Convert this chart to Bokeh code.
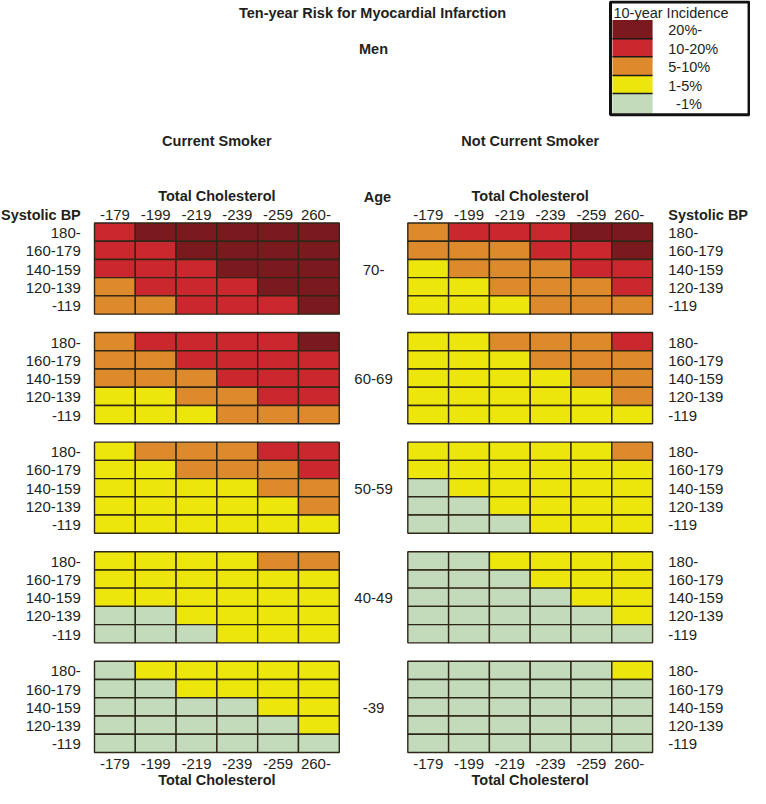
from bokeh.plotting import figure
from bokeh.models import Range1d, ColumnDataSource
from bokeh.core.properties import value
from bokeh.embed import file_html
from bokeh.resources import INLINE

# ---------------- data ----------------
chol_labels = ["-179", "-199", "-219", "-239", "-259", "260-"]
bp_labels = ["180-", "160-179", "140-159", "120-139", "-119"]
age_labels = ["70-", "60-69", "50-59", "40-49", "-39"]
# risk levels: 0 = -1%, 1 = 1-5%, 2 = 5-10%, 3 = 10-20%, 4 = 20%-
legend_labels = ["20%-", "10-20%", "5-10%", "1-5%", "-1%"]
legend_levels = [4, 3, 2, 1, 0]
level_colors = ["#c3dbbb", "#ece60c", "#dc8a2c", "#cb272e", "#7a1a1f"]

smoker_70 = [[3, 4, 4, 4, 4, 4],
             [3, 3, 4, 4, 4, 4],
             [3, 3, 3, 4, 4, 4],
             [2, 3, 3, 3, 4, 4],
             [2, 2, 3, 3, 3, 4]]
smoker_60 = [[2, 3, 3, 3, 3, 4],
             [2, 2, 3, 3, 3, 3],
             [2, 2, 2, 3, 3, 3],
             [1, 1, 2, 2, 3, 3],
             [1, 1, 1, 2, 2, 2]]
smoker_50 = [[1, 2, 2, 2, 3, 3],
             [1, 1, 2, 2, 2, 3],
             [1, 1, 1, 1, 2, 2],
             [1, 1, 1, 1, 1, 2],
             [1, 1, 1, 1, 1, 1]]
smoker_40 = [[1, 1, 1, 1, 2, 2],
             [1, 1, 1, 1, 1, 1],
             [1, 1, 1, 1, 1, 1],
             [0, 0, 1, 1, 1, 1],
             [0, 0, 0, 1, 1, 1]]
smoker_39 = [[0, 1, 1, 1, 1, 1],
             [0, 0, 1, 1, 1, 1],
             [0, 0, 0, 0, 1, 1],
             [0, 0, 0, 0, 0, 1],
             [0, 0, 0, 0, 0, 0]]

nonsmoker_70 = [[2, 3, 3, 3, 4, 4],
                [2, 2, 2, 3, 3, 4],
                [1, 2, 2, 2, 3, 3],
                [1, 1, 2, 2, 2, 3],
                [1, 1, 1, 2, 2, 2]]
nonsmoker_60 = [[1, 1, 2, 2, 2, 3],
                [1, 1, 1, 2, 2, 2],
                [1, 1, 1, 1, 2, 2],
                [1, 1, 1, 1, 1, 2],
                [1, 1, 1, 1, 1, 1]]
nonsmoker_50 = [[1, 1, 1, 1, 1, 2],
                [1, 1, 1, 1, 1, 1],
                [0, 1, 1, 1, 1, 1],
                [0, 0, 1, 1, 1, 1],
                [0, 0, 0, 1, 1, 1]]
nonsmoker_40 = [[0, 0, 1, 1, 1, 1],
                [0, 0, 0, 1, 1, 1],
                [0, 0, 0, 0, 1, 1],
                [0, 0, 0, 0, 0, 1],
                [0, 0, 0, 0, 0, 0]]
nonsmoker_39 = [[0, 0, 0, 0, 0, 1],
                [0, 0, 0, 0, 0, 0],
                [0, 0, 0, 0, 0, 0],
                [0, 0, 0, 0, 0, 0],
                [0, 0, 0, 0, 0, 0]]

smoker_panels = [smoker_70, smoker_60, smoker_50, smoker_40, smoker_39]
nonsmoker_panels = [nonsmoker_70, nonsmoker_60, nonsmoker_50, nonsmoker_40, nonsmoker_39]

# ---------------- layout ----------------
FONT = value("Liberation Sans")
W, H = 750, 788
p = figure(width=W, height=H, output_backend="svg", toolbar_location=None,
           x_range=Range1d(0, 766), y_range=Range1d(804, 0),
           min_border=0, outline_line_color=None)
p.axis.visible = False
p.grid.visible = False
p.background_fill_color = "white"
p.border_fill_color = "white"

left_x0 = 96.0
right_x0 = 416.0
cell_w = 250.0 / 6
cell_h = 93.0 / 5
panel_top0 = 227.0
panel_step = 111.8

L, R, T, B, C = [], [], [], [], []
for x0, panels in ((left_x0, smoker_panels), (right_x0, nonsmoker_panels)):
    for k, grid in enumerate(panels):
        top = panel_top0 + k * panel_step
        for i, row in enumerate(grid):
            for j, lev in enumerate(row):
                L.append(x0 + j * cell_w)
                R.append(x0 + (j + 1) * cell_w)
                T.append(top + i * cell_h)
                B.append(top + (i + 1) * cell_h)
                C.append(level_colors[lev])
p.quad(left=L, right=R, top=T, bottom=B, fill_color=C,
       line_color="#2e2616", line_width=1.4)


def txt(xs, ys, texts, size="15px", align="center", bold=False, color="#231f20"):
    p.text(x=xs, y=ys, text=texts, text_font=FONT, text_font_size=value(size),
           text_align=align, text_baseline="middle",
           text_font_style="bold" if bold else "normal", text_color=color)


# titles
txt([380], [13], ["Ten-year Risk for Myocardial Infarction"], size="14.5px", bold=True)
txt([381], [49], ["Men"], size="14.5px", bold=True)
txt([221], [143], ["Current Smoker"], size="14.5px", bold=True)
txt([541], [143], ["Not Current Smoker"], size="14.5px", bold=True)

# Total cholesterol headers
txt([left_x0 + 125, right_x0 + 125], [199, 199], ["Total Cholesterol"] * 2, size="14.5px", bold=True)
txt([left_x0 + 125, right_x0 + 125], [795, 795], ["Total Cholesterol"] * 2, size="14.5px", bold=True)
txt([82], [219], ["Systolic BP"], size="14.5px", bold=True, align="right")
txt([682], [219], ["Systolic BP"], size="14.5px", bold=True, align="left")
txt([371], [200], ["Age"], size="14.5px", bold=True, align="left")

# column labels
cx, cy, ct = [], [], []
for x0 in (left_x0, right_x0):
    for j, lab in enumerate(chol_labels):
        for yy in (219, 779):
            cx.append(x0 + (j + 0.5) * cell_w - (3 if j == 5 else 0))
            cy.append(yy)
            ct.append(lab)
txt(cx, cy, ct)

# row labels + age labels
lx, ly, lt, rx, ry, rt, ax, ay = [], [], [], [], [], [], [], []
for k in range(5):
    top = panel_top0 + k * panel_step
    for i, lab in enumerate(bp_labels):
        yy = top + (i + 0.5) * cell_h + 1
        lx.append(82); ly.append(yy); lt.append(lab)
        rx.append(682); ry.append(yy); rt.append(lab)
    ax.append(381); ay.append(top + 2.5 * cell_h + 1)
txt(lx, ly, lt, align="right")
txt(rx, ry, rt, align="left")
txt(ax, ay, age_labels)

# legend
leg_top = [20, 39, 57.5, 76.5, 95]
leg_bot = [39, 57.5, 76.5, 95, 115]
p.quad(left=[625] * 5, right=[666] * 5, top=leg_top, bottom=leg_bot,
       fill_color=[level_colors[l] for l in legend_levels],
       line_color=None)
p.segment(x0=[625] * 4, x1=[666] * 4, y0=leg_top[1:], y1=leg_top[1:],
          line_color="#1a1a1a", line_width=1.5)
txt([626], [12.5], ["10-year Incidence"], size="14.5px", align="left")
txt([682, 682, 682, 682, 690],
    [(a + b) / 2 + 1 for a, b in zip(leg_top, leg_bot)],
    legend_labels, size="14.5px", align="left")
p.quad(left=[623], right=[764.5], top=[1.5], bottom=[116.5],
       fill_color=None, line_color="#111111", line_width=3)

open("out.html", "w").write(file_html(p, INLINE))
